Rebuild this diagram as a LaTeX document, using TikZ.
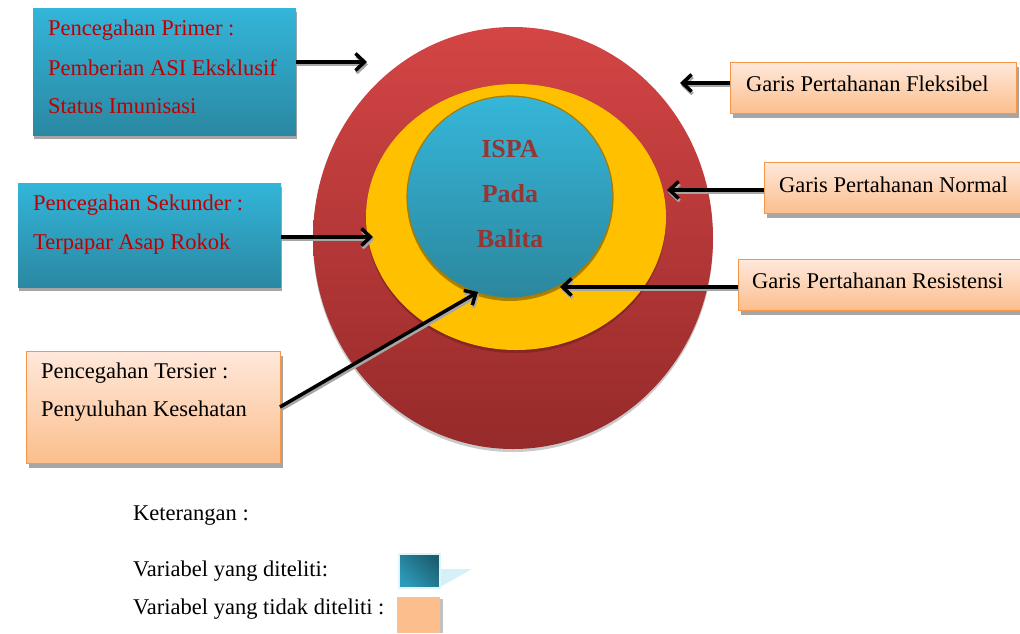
\documentclass[tikz,border=0pt]{standalone}
\usepackage{fontspec}
\setmainfont{Liberation Serif}
\usetikzlibrary{shapes.geometric,arrows.meta,shadows}
\definecolor{boxtop}{HTML}{33B5D9}
\definecolor{boxbot}{HTML}{2A88A2}
\definecolor{redtxt}{HTML}{C00000}
\definecolor{ortop}{HTML}{FFE8DB}
\definecolor{orbot}{HTML}{FBBE8C}
\definecolor{orline}{HTML}{F79646}
\definecolor{ringtop}{HTML}{D44545}
\definecolor{ringbot}{HTML}{962A2A}
\definecolor{ringyel}{HTML}{FFC000}
\definecolor{coretop}{HTML}{36B6D9}
\definecolor{corebot}{HTML}{2B879E}
\definecolor{coretxt}{HTML}{943634}
\definecolor{coreline}{HTML}{A67C00}
\definecolor{shd}{HTML}{A6A6A6}
\tikzset{
  x=1pt,y=-1pt,
  txt/.style={font=\fontsize{22.5}{27}\selectfont, inner sep=0pt, anchor=west},
  bluebox/.style={rectangle, inner sep=0pt, top color=boxtop, bottom color=boxbot, draw=none,
     drop shadow={shadow xshift=1pt, shadow yshift=-4pt, fill=shd, opacity=1}},
  orbox/.style={rectangle, inner sep=0pt, top color=ortop, bottom color=orbot, draw=orline, line width=1pt,
     drop shadow={shadow xshift=2pt, shadow yshift=-4pt, fill=shd, opacity=1}},
  arr/.style={line width=3.5pt, black, -{Straight Barb[length=9pt,width=17pt,line width=3.5pt]},
     preaction={draw=shd, line width=3.5pt, transform canvas={shift={(1pt,-2.5pt)}}}},
  coretext/.style={font=\fontsize{26}{30}\bfseries\selectfont, text=coretxt, inner sep=0pt}
}
\begin{document}
\begin{tikzpicture}
\useasboundingbox (0,0) rectangle (1020,633);
% circles
\node[ellipse, inner sep=0pt, minimum width=400, minimum height=422, top color=ringtop, bottom color=ringbot,
  drop shadow={shadow xshift=0pt, shadow yshift=-3pt, fill=shd, opacity=0.6}] (outer) at (513,238) {};
\node[ellipse, inner sep=0pt, minimum width=300, minimum height=266, fill=ringyel,
  drop shadow={shadow xshift=0pt, shadow yshift=-3pt, fill=ringbot!70!black, opacity=0.5}] (mid) at (516,217) {};
\node[ellipse, inner sep=0pt, minimum width=206, minimum height=202, top color=coretop, bottom color=corebot,
  draw=coreline, line width=1.2pt,
  drop shadow={shadow xshift=0pt, shadow yshift=-3pt, fill=coreline, opacity=0.9}] (core) at (510,197) {};
\node[coretext] (t1) at (510,149) {ISPA};
\node[coretext] (t2) at (510,194) {Pada};
\node[coretext] (t3) at (510,239) {Balita};

% left boxes
\node[bluebox, minimum width=263, minimum height=127, anchor=north west] (prim) at (33,8) {};
\node[txt, text=redtxt] (p1) at (48,30) {Pencegahan Primer :};
\node[txt, text=redtxt] (p2) at (48,68) {Pemberian ASI Eksklusif};
\node[txt, text=redtxt] (p3) at (48,106) {Status Imunisasi};

\node[bluebox, minimum width=263, minimum height=104, anchor=north west] (sek) at (18,183) {};
\node[txt, text=redtxt] (s1) at (33,205) {Pencegahan Sekunder :};
\node[txt, text=redtxt] (s2) at (33,244) {Terpapar Asap Rokok};

\node[orbox, minimum width=254, minimum height=112, anchor=north west] (ter) at (26,351) {};
\node[txt] (r1) at (41,373) {Pencegahan Tersier :};
\node[txt] (r2) at (41,411) {Penyuluhan Kesehatan};

% right boxes
\node[orbox, minimum width=286, minimum height=51, anchor=north west] (flex) at (730,62) {};
\node[txt] (f1) at (746,84) {Garis Pertahanan Fleksibel};
\node[orbox, minimum width=258, minimum height=51, anchor=north west] (norm) at (764,162) {};
\node[txt] (n1) at (779,185) {Garis Pertahanan Normal};
\node[orbox, minimum width=284, minimum height=51, anchor=north west] (res) at (738,259) {};
\node[txt] (e1) at (752,281) {Garis Pertahanan Resistensi};

% arrow targets
\coordinate (a1) at (367,62);
\coordinate (a2) at (373,237);
\coordinate (a3) at (478,292);
\coordinate (a4) at (680,83);
\coordinate (a5) at (667,190);
\coordinate (a6) at (560,287);
\coordinate (b3) at (280,407);

\draw[arr] (prim.east |- a1) -- (a1);
\draw[arr] (sek.east |- a2) -- (a2);
\draw[arr] (b3) -- (a3);
\draw[arr] (flex.west |- a4) -- (a4);
\draw[arr] (norm.west |- a5) -- (a5);
\draw[arr] (res.west |- a6) -- (a6);

% legend
\node[txt] (k1) at (133,516) {Keterangan :};
\node[txt] (k2) at (133,571) {Variabel yang diteliti:};
\node[txt] (k3) at (133,609) {Variabel yang tidak diteliti :};
\fill[fill=boxtop!20] (440,569) -- (472,569) -- (440,587) -- cycle;
\node[rectangle, inner sep=0pt, minimum width=41, minimum height=34, anchor=north west,
  draw=boxtop!15, line width=1.5pt, left color=boxtop!85!black, right color=boxbot!70!black,
  shading angle=135] (lb) at (398,553) {};
\fill[shd!70] (400,599) rectangle (443,633);
\node[rectangle, inner sep=0pt, minimum width=43, minimum height=36, anchor=north west, fill=orbot] (lo) at (397,597) {};
\end{tikzpicture}
\end{document}
